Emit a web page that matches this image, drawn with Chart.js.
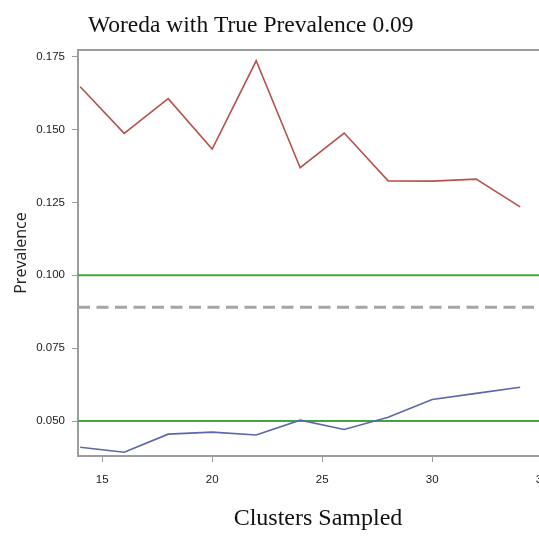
<!DOCTYPE html>
<html>
<head>
<meta charset="utf-8">
<script src="https://cdn.jsdelivr.net/npm/chart.js@4.4.0/dist/chart.umd.min.js"></script>
<style>
  html, body { margin: 0; padding: 0; overflow: hidden; background: #fff; }
  #wrap { width: 580px; height: 539px; }
</style>
</head>
<body>
<div id="wrap"><canvas id="prevChart" width="580" height="539"></canvas></div>
<script>
// clusters sampled (x) and the two prevalence series
const clusters = [14, 16, 18, 20, 22, 24, 26, 28, 30, 32, 34];
const upperPrev = [0.1647, 0.1487, 0.1606, 0.1433, 0.1736, 0.1369, 0.1488, 0.1324, 0.1323, 0.1330, 0.1235];
const lowerPrev = [0.0410, 0.0393, 0.0455, 0.0462, 0.0452, 0.0503, 0.0471, 0.0513, 0.0574, 0.0595, 0.0616];

// reference lines
const thresholds = [0.100, 0.050];
const truePrev = 0.089;

// axis ticks
const xTicks = [15, 20, 25, 30, 35];
const yTicks = [0.050, 0.075, 0.100, 0.125, 0.150, 0.175];
const xRange = [13.9, 35.72];
const yRange = [0.038, 0.1773];

const tickFont = { family: "'Liberation Sans', Arial, sans-serif", size: 11.5 };
const axisGrey = "#9c9c9c";

function series(ys) {
  return clusters.map((x, i) => ({ x: x, y: ys[i] }));
}

function hline(y) {
  return [{ x: xRange[0], y: y }, { x: xRange[1], y: y }];
}

// title drawn left of centre, plus the top/right frame lines
const framePlugin = {
  id: "frame",
  beforeDatasetsDraw(chart) {
    const { ctx, chartArea } = chart;
    ctx.save();
    ctx.strokeStyle = axisGrey;
    ctx.lineWidth = 2;
    ctx.beginPath();
    ctx.moveTo(chartArea.left, chartArea.top);
    ctx.lineTo(chartArea.right, chartArea.top);
    ctx.lineTo(chartArea.right, chartArea.bottom);
    ctx.stroke();
    ctx.restore();
  },
  afterDraw(chart) {
    const ctx = chart.ctx;
    ctx.save();
    ctx.fillStyle = "#111";
    ctx.font = "23.5px 'Liberation Serif', 'Times New Roman', serif";
    ctx.textAlign = "left";
    ctx.textBaseline = "alphabetic";
    ctx.fillText("Woreda with True Prevalence 0.09", 88, 32);
    ctx.restore();
  }
};

const datasets = [
  { data: series(upperPrev), borderColor: "#b5534d", borderWidth: 1.6 },
  { data: series(lowerPrev), borderColor: "#5c67a9", borderWidth: 1.6 }
];
thresholds.forEach((t) => {
  datasets.push({ data: hline(t), borderColor: "#41a541", borderWidth: 2 });
});
datasets.push({ data: hline(truePrev), borderColor: "#a2a6aa", borderWidth: 3, borderDash: [12, 6.5] });
datasets.forEach((d) => { d.pointRadius = 0; d.tension = 0; d.fill = false; });

new Chart(document.getElementById("prevChart"), {
  type: "line",
  data: { datasets: datasets },
  plugins: [framePlugin],
  options: {
    responsive: false,
    animation: false,
    layout: { padding: { top: 50, right: 22, bottom: 0, left: 0 } },
    plugins: { legend: { display: false }, tooltip: { enabled: false } },
    scales: {
      x: {
        type: "linear",
        min: xRange[0],
        max: xRange[1],
        afterBuildTicks: (s) => { s.ticks = xTicks.map((v) => ({ value: v })); },
        afterFit: (s) => { s.height = 83; },
        ticks: { font: tickFont, color: "#1a1a1a", padding: 11, maxRotation: 0, callback: (v) => v },
        grid: { drawOnChartArea: false, drawTicks: true, tickLength: 6, color: axisGrey },
        border: { display: true, color: axisGrey, width: 2 },
        title: {
          display: true,
          text: "Clusters Sampled",
          color: "#111",
          font: { family: "'Liberation Serif', 'Times New Roman', serif", size: 24 },
          padding: { top: 0, bottom: 6 }
        }
      },
      y: {
        min: yRange[0],
        max: yRange[1],
        afterBuildTicks: (s) => { s.ticks = yTicks.map((v) => ({ value: v })); },
        afterFit: (s) => { s.width = 78; },
        ticks: { font: tickFont, color: "#1a1a1a", padding: 7, callback: (v) => v.toFixed(3) },
        grid: { drawOnChartArea: false, drawTicks: true, tickLength: 6, color: axisGrey },
        border: { display: true, color: axisGrey, width: 2 },
        title: {
          display: true,
          text: "Prevalence",
          color: "#222",
          font: { family: "'Open Sans', 'DejaVu Sans', sans-serif", size: 16 },
          padding: { top: 12, bottom: 0 }
        }
      }
    }
  }
});
</script>
</body>
</html>
